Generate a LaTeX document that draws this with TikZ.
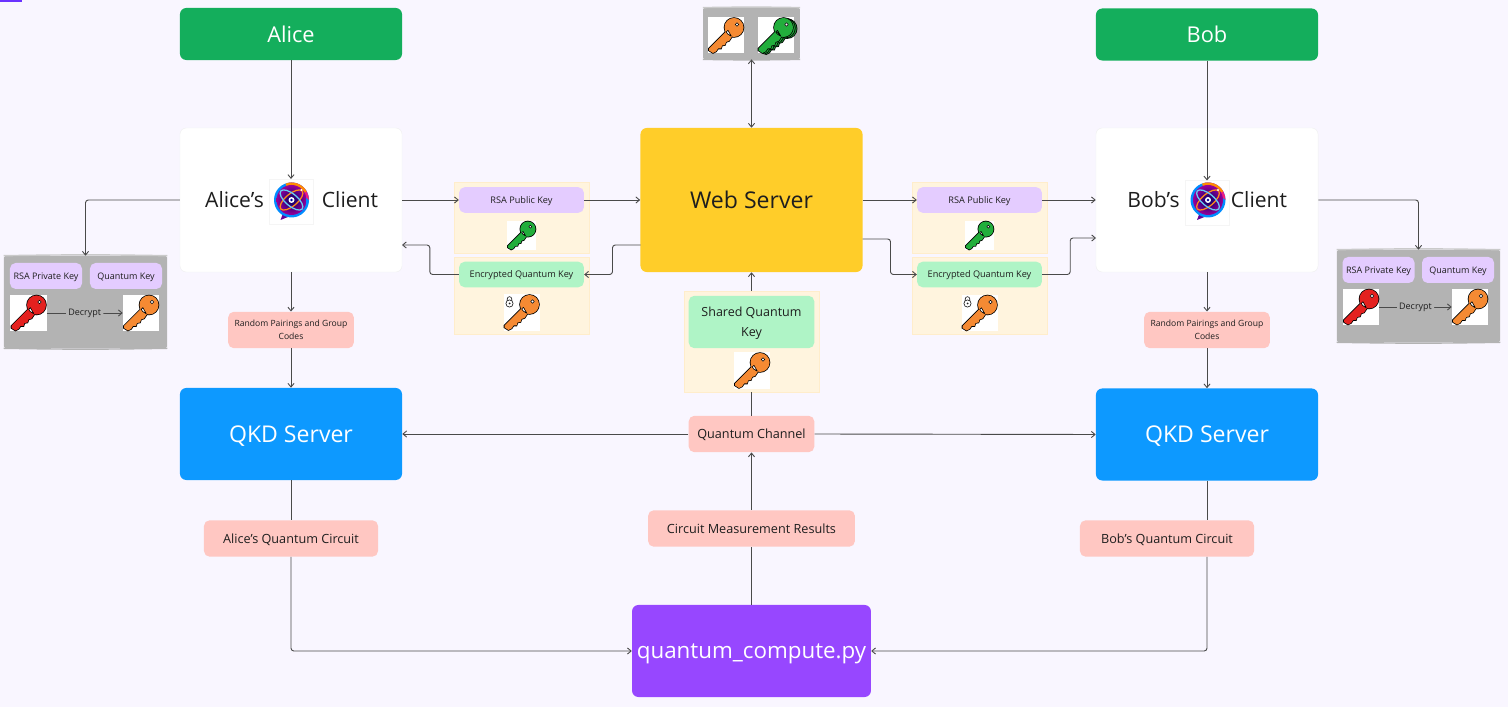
\documentclass[tikz,border=0pt]{standalone}
\usepackage{fontspec}
\setmainfont{Open Sans}
\usepackage{xcolor}
\usepackage{tikz}
\usetikzlibrary{arrows.meta,positioning,shapes.geometric}
\definecolor{pagebg}{HTML}{F9F6FF}
\definecolor{linegrey}{HTML}{4A4A4A}
\definecolor{inkdark}{HTML}{1E1E1E}
\definecolor{greenbox}{HTML}{14AE5C}
\definecolor{bluebox}{HTML}{0D99FF}
\definecolor{yellowbox}{HTML}{FFCD29}
\definecolor{purplebox}{HTML}{9747FF}
\definecolor{lilacpill}{HTML}{E4CCFF}
\definecolor{mintpill}{HTML}{AFF4C6}
\definecolor{salmonpill}{HTML}{FFC7C2}
\definecolor{creambg}{HTML}{FFF4DE}
\definecolor{creamedge}{HTML}{FFEDCB}
\definecolor{dbgrey}{HTML}{B3B3B3}
\definecolor{keyorange}{HTML}{F58A33}
\definecolor{keygreen}{HTML}{22AE3C}
\definecolor{keyred}{HTML}{E4211F}
\tikzset{
  bigbox/.style={rectangle,rounded corners=4.5pt,minimum width=5.55cm,align=center,inner sep=0pt,text depth=0pt},
  namebox/.style={bigbox,fill=greenbox,text=white,minimum height=1.3cm,font=\fontsize{15.5}{18}\selectfont},
  clientbox/.style={bigbox,fill=white,draw=white!94!black,line width=0.3pt,minimum height=3.6cm},
  clienttext/.style={inner sep=0pt,text=inkdark,font=\fontsize{15}{18}\selectfont},
  qkdbox/.style={bigbox,fill=bluebox,text=white,minimum height=2.3cm,font=\fontsize{16.4}{19}\selectfont},
  pill/.style={rectangle,rounded corners=4pt,align=center,inner sep=0pt,text=inkdark,text depth=0pt},
  smallpill/.style={pill,minimum width=3.12cm,minimum height=0.64cm,font=\fontsize{6.5}{9}\selectfont},
  privpill/.style={pill,fill=lilacpill,minimum width=1.8cm,minimum height=0.65cm,font=\fontsize{6.4}{9}\selectfont},
  redpill/.style={pill,fill=salmonpill,minimum height=0.91cm,font=\fontsize{9}{13}\selectfont},
  randpill/.style={pill,fill=salmonpill,minimum width=3.14cm,minimum height=0.91cm,font=\fontsize{6.1}{9.2}\selectfont},
  section/.style={rectangle,fill=creambg,draw=creamedge,line width=0.4pt,minimum width=3.37cm,inner sep=0pt},
  dbstore/.style={rectangle,fill=dbgrey,rounded corners=1pt,inner sep=0pt,
    append after command={
      (\tikzlastnode.north west) edge[draw=dbgrey!70!white,line width=1pt,bend left=1] (\tikzlastnode.north east)
      (\tikzlastnode.south west) edge[draw=dbgrey,line width=1pt,bend right=1] (\tikzlastnode.south east)}},
  keysq/.style={rectangle,fill=white,minimum size=0.9cm,inner sep=0pt},
  logosq/.style={rectangle,fill=white,draw=white!96!black,line width=0.2pt,minimum width=1.1cm,minimum height=1.12cm,inner sep=0pt},
  link/.style={linegrey,line width=0.65pt,rounded corners=2pt},
  arrowlink/.style={link,-{Straight Barb[length=2.6pt,width=4.4pt]}},
  bothlink/.style={link,{Straight Barb[length=2.6pt,width=4.4pt]}-{Straight Barb[length=2.6pt,width=4.4pt]}},
  pics/keyicon/.style={code={
    \def\keyoutline{
      (2,-6) -- (-17,13) -- (-17,15) -- (-13,17.5) -- (-10,16) -- (-8,13) -- (-5,13) -- (-4,10)
      -- (-1,9.5) -- (0,6.5) -- (3,5.5) -- (6,1) -- cycle
      (8,-8) circle (9.5)}
    \draw[black,line width=1.1pt,fill=black] \keyoutline;
    \fill[#1] \keyoutline;
    \fill[white,draw=black,line width=0.35pt] (11,-11) circle (1.8);
  }},
  pics/padlock/.style={code={
    \draw[inkdark,line width=0.45pt] (-2.3,-1) -- (-2.3,-3) arc (180:360:2.3) -- (2.3,-1);
    \draw[inkdark,line width=0.45pt,fill=white] (0,1.5) circle (3.6);
    \fill[inkdark] (0,1.5) circle (1);
  }},
  pics/atomlogo/.style={code={
    \fill[violet!80!blue] (-8,12) -- (-11,20) -- (4,14) -- cycle;
    \fill[blue!45!cyan] (0,0) circle (17.5);
    \fill[magenta!80!orange] (17.5,0) arc (0:-100:17.5) -- cycle;
    \fill[orange!90!yellow] (-6,-16.4) arc (250:330:17.5) -- (0,0) -- cycle;
    \shade[inner color=black!60!blue,outer color=violet!80!magenta] (0,0) circle (15);
    \draw[orange!90!white,line width=0.9pt,rotate=40] (0,0) ellipse [x radius=14,y radius=6];
    \draw[cyan!60!white,line width=0.9pt,rotate=-40] (0,0) ellipse [x radius=14,y radius=6];
    \fill[white] (0,0) circle (3);
    \fill[blue!60!black] (0,0) circle (1.4);
    \fill[white] (10,-10) circle (1.2);
  }},
}
\begin{document}
\begin{tikzpicture}[x=0.025cm,y=-0.025cm]
\useasboundingbox[fill=pagebg] (0,0) rectangle (1508,707);
\fill[purplebox!70!blue] (0,0) rectangle (22,2);
% cream panels behind the keys
\node[section,minimum height=1.78cm] (secpubl) at (521.5,217.5) {};
\node[section,minimum height=1.92cm] (secencl) at (521.5,295.5) {};
\node[section,minimum height=1.78cm] (secpubr) at (979.5,217.5) {};
\node[section,minimum height=1.92cm] (secencr) at (979.5,295.5) {};
\node[section,minimum height=2.52cm] (secshared) at (751.5,341.5) {};
% boxes
\node[namebox] (alice) at (291,34) {Alice};
\node[namebox] (bob) at (1207,34.5) {Bob};
\node[clientbox] (aliceclient) at (291,200) {};
\node[clientbox] (bobclient) at (1207,200) {};
\node[bigbox,fill=yellowbox,text=inkdark,minimum height=3.6cm,font=\fontsize{16.4}{20}\selectfont] (web) at (751.5,200) {Web Server};
\node[qkdbox] (aliceqkd) at (291,434) {QKD Server};
\node[qkdbox] (bobqkd) at (1207,434.5) {QKD Server};
\node[bigbox,fill=purplebox,text=white,minimum width=5.97cm,minimum height=2.3cm,font=\fontsize{15.9}{20}\selectfont] (compute) at (751.5,651) {quantum\_compute.py};
% client labels with logos
\node[clienttext] (alicename) at (234.5,200) {Alice’s};
\node[logosq] (alicelogo) at (291,201.5) {};
\node[clienttext] (aliceword) at (350,200) {Client};
\pic at (291.5,200) {atomlogo};
\node[clienttext] (bobname) at (1153.5,200) {Bob’s};
\node[logosq] (boblogo) at (1207,203) {};
\node[clienttext] (bobword) at (1259,200) {Client};
\pic at (1208,200) {atomlogo};
% key stores
\node[dbstore,minimum width=2.42cm,minimum height=1.28cm] (dbtop) at (751.5,33.5) {};
\node[keysq] (keyshared) at (726,35.5) {};
\pic at (keyshared) {keyicon=keyorange};
\node[keysq] (keypublic) at (775.5,35.5) {};
\pic at ([xshift=2.6pt,yshift=-0.8pt]keypublic) {keyicon=keygreen!80!black};
\pic at ([xshift=1.3pt,yshift=-0.4pt]keypublic) {keyicon=keygreen};
\pic at (keypublic) {keyicon=keygreen};
\node[dbstore,minimum width=4.08cm,minimum height=2.3cm] (dbleft) at (85.5,302) {};
\node[privpill] (privl) at (46,276) {RSA Private Key};
\node[privpill] (quantl) at (126,276) {Quantum Key};
\node[keysq] (keyredl) at (28.5,313) {};
\pic at (keyredl) {keyicon=keyred};
\node[keysq] (keyorgl) at (141,313) {};
\pic at (keyorgl) {keyicon=keyorange};
\node[dbstore,minimum width=4.08cm,minimum height=2.3cm] (dbright) at (1418.5,296) {};
\node[privpill] (privr) at (1378.5,270) {RSA Private Key};
\node[privpill] (quantr) at (1458,270) {Quantum Key};
\node[keysq] (keyredr) at (1361,307) {};
\pic at (keyredr) {keyicon=keyred};
\node[keysq] (keyorgr) at (1470,307) {};
\pic at (keyorgr) {keyicon=keyorange};
% pills
\node[smallpill,fill=lilacpill] (publ) at (521.5,200) {RSA Public Key};
\node[smallpill,fill=mintpill] (encl) at (521.5,274.5) {Encrypted Quantum Key};
\node[keysq,minimum size=0.73cm] (keypubl) at (521.5,235.5) {};
\pic[scale=0.8] at (keypubl) {keyicon=keygreen};
\node[keysq] (keyencl) at (521.5,312.5) {};
\pic at (keyencl) {keyicon=keyorange};
\pic at (509.5,302) {padlock};
\node[smallpill,fill=lilacpill] (pubr) at (979.5,200) {RSA Public Key};
\node[smallpill,fill=mintpill] (encr) at (979.5,274.5) {Encrypted Quantum Key};
\node[keysq,minimum size=0.73cm] (keypubr) at (979.5,235.5) {};
\pic[scale=0.8] at (keypubr) {keyicon=keygreen};
\node[keysq] (keyencr) at (979.5,313) {};
\pic at (keyencr) {keyicon=keyorange};
\pic at (967.5,302) {padlock};
\node[pill,fill=mintpill,minimum width=3.14cm,minimum height=1.31cm,font=\fontsize{8.9}{14}\selectfont] (shared) at (751.5,322) {Shared Quantum\\Key};
\node[keysq] (keyshr) at (752,370.5) {};
\pic at (keyshr) {keyicon=keyorange};
\node[randpill] (randl) at (291,330) {Random Pairings and Group\\Codes};
\node[randpill] (randr) at (1207,330) {Random Pairings and Group\\Codes};
\node[redpill,minimum width=3.14cm] (channel) at (751.5,434) {Quantum Channel};
\node[redpill,minimum width=5.17cm] (results) at (751.5,528.5) {Circuit Measurement Results};
\node[redpill,minimum width=4.35cm] (aliceqc) at (291,538.5) {Alice’s Quantum Circuit};
\node[redpill,minimum width=4.35cm] (bobqc) at (1167,538.5) {Bob’s Quantum Circuit};
% tap points on the servers and clients
\coordinate (webwl) at (640.5,245);
\coordinate (alicein) at (402,245);
\coordinate (webel) at (862.5,239);
\coordinate (bobin) at (1096,238);
% connectors
\draw[arrowlink] (alice.south) -- (alicelogo.north);
\draw[arrowlink] (bob.south) -- (boblogo.north);
\draw[arrowlink] (aliceclient.west) -| (dbleft.north);
\draw[arrowlink] (bobclient.east) -| (dbright.north);
\draw[arrowlink] (aliceclient.east) -- (publ.west);
\draw[arrowlink] (publ.east) -- (web.west);
\draw[arrowlink] (web.east) -- (pubr.west);
\draw[arrowlink] (pubr.east) -- (bobclient.west);
\draw[arrowlink] (webwl) -- ++(-28,0) |- (encl.east);
\draw[arrowlink] (encl.west) -- ++(-29,0) |- (alicein);
\draw[arrowlink] (webel) -- ++(28,0) |- (encr.west);
\draw[arrowlink] (encr.east) -- ++(28,0) |- (bobin);
\draw[bothlink] (web.north) -- (dbtop.south);
\draw[arrowlink] (secshared.north) -- (web.south);
\draw[link] (channel.north) -- (secshared.south);
\draw[arrowlink] (channel.west) -- (aliceqkd.east);
\draw[arrowlink] (channel.east) -- (bobqkd.west);
\draw[arrowlink] (results.north) -- (channel.south);
\draw[link] (compute.north) -- (results.south);
\draw[arrowlink] (aliceclient.south) -- (randl.north);
\draw[arrowlink] (randl.south) -- (aliceqkd.north);
\draw[arrowlink] (bobclient.south) -- (randr.north);
\draw[arrowlink] (randr.south) -- (bobqkd.north);
\draw[link] (aliceqkd.south) -- (aliceqc.north);
\draw[arrowlink] (aliceqc.south) |- (compute.west);
\draw[link] (bobqkd.south) -- (bobqkd.south |- bobqc.north);
\draw[arrowlink] (bobqkd.south |- bobqc.south) |- (compute.east);
\draw[arrowlink] (keyredl.east) -- node[fill=dbgrey,inner sep=1.5pt,text=inkdark,font=\fontsize{6.4}{8}\selectfont] {Decrypt} (keyorgl.west);
\draw[arrowlink] (keyredr.east) -- node[fill=dbgrey,inner sep=1.5pt,text=inkdark,font=\fontsize{6.4}{8}\selectfont] {Decrypt} (keyorgr.west);
\end{tikzpicture}
\end{document}
